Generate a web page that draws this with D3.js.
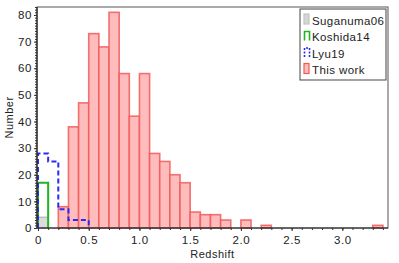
<!DOCTYPE html>
<html>
<head>
<meta charset="utf-8">
<style>
  body { margin: 0; background: #fff; }
  svg text { font-family: "Liberation Sans", Arial, sans-serif; fill: #222; }
</style>
</head>
<body>
<svg width="399" height="263"></svg>
<script src="https://cdnjs.cloudflare.com/ajax/libs/d3/7.8.5/d3.min.js"></script>
<script>

// histogram counts, bins of width 0.1 starting at z = 0
var binWidth = 0.1;
var thisWork   = [0, 0, 8, 38, 47, 73, 68, 81, 58, 42, 58, 28, 25, 20, 17, 6, 5, 5, 3, 0, 3, 0, 1,
                  0, 0, 0, 0, 0, 0, 0, 0, 0, 0, 1];
var lyu19      = [28, 25, 7, 3, 3];
var koshida14  = [17];
var suganuma06 = [4];

var xTicks = [0, 0.5, 1.0, 1.5, 2.0, 2.5, 3.0];
var yTicks = [0, 10, 20, 30, 40, 50, 60, 70, 80];
var legendNames = ["Suganuma06", "Koshida14", "Lyu19", "This work"];

var svg = d3.select("svg");
var plotL = 37, plotR = 388, plotT = 7, plotB = 228;

var x = d3.scaleLinear().domain([-0.01, 3.45]).range([plotL, plotR]);
var y = d3.scaleLinear().domain([0, 83]).range([plotB, plotT]);

function bins(arr) {
  return arr.map(function(v, i) { return { x0: i * binWidth, x1: (i + 1) * binWidth, n: v }; });
}

// step outline of a histogram
function stepPath(arr) {
  var p = d3.path();
  p.moveTo(x(0), y(0));
  arr.forEach(function(v, i) {
    p.lineTo(x(i * binWidth), y(v));
    p.lineTo(x((i + 1) * binWidth), y(v));
  });
  p.lineTo(x(arr.length * binWidth), y(0));
  return p.toString();
}

// gray
svg.append("g").selectAll("rect")
  .data(bins(suganuma06).filter(function(d) { return d.n > 0; }))
  .enter().append("rect")
  .attr("x", function(d) { return x(d.x0); })
  .attr("width", function(d) { return x(d.x1) - x(d.x0); })
  .attr("y", function(d) { return y(d.n); })
  .attr("height", function(d) { return y(0) - y(d.n); })
  .attr("fill", "#dcdcdc")
  .attr("stroke", "#bdbdbd")
  .attr("stroke-width", 1.5);

// this work
svg.append("g").selectAll("rect")
  .data(bins(thisWork).filter(function(d) { return d.n > 0; }))
  .enter().append("rect")
  .attr("x", function(d) { return x(d.x0); })
  .attr("width", function(d) { return x(d.x1) - x(d.x0); })
  .attr("y", function(d) { return y(d.n); })
  .attr("height", function(d) { return y(0) - y(d.n); })
  .attr("fill", "#ffbcbc")
  .attr("stroke", "#f25a5a")
  .attr("stroke-opacity", 0.85)
  .attr("stroke-width", 1.6);

svg.append("path")
  .attr("d", stepPath(koshida14))
  .attr("fill", "none")
  .attr("stroke", "#22b422")
  .attr("stroke-width", 2);

svg.append("path")
  .attr("d", stepPath(lyu19))
  .attr("fill", "none")
  .attr("stroke", "#2a2af5")
  .attr("stroke-width", 2)
  .attr("stroke-dasharray", "5,3");

// axes
var xAxis = d3.axisBottom(x).tickValues(xTicks)
  .tickFormat(function(d) { return d === 0 ? "0" : d3.format(".1f")(d); })
  .tickSize(3).tickPadding(5);
var xMinor = d3.axisBottom(x).tickValues(d3.range(0, 35).map(function(i) { return i / 10; }))
  .tickSize(2).tickFormat("");
var yAxis = d3.axisLeft(y).tickValues(yTicks).tickSize(3).tickPadding(2);
var yMinor = d3.axisLeft(y).tickValues(d3.range(0, 84)).tickSize(2).tickFormat("");

function styleAxis(g) {
  g.select(".domain").remove();
  g.selectAll("line").attr("stroke", "#333");
  g.selectAll("text").attr("font-size", 11.5).attr("font-family", "Liberation Sans, Arial, sans-serif")
    .attr("fill", "#222").style("letter-spacing", "0.6px");
}

svg.append("g").attr("transform", "translate(0," + plotB + ")").call(xMinor).call(styleAxis);
svg.append("g").attr("transform", "translate(0," + plotB + ")").call(xAxis).call(styleAxis);
svg.append("g").attr("transform", "translate(" + plotL + ",0)").call(yMinor).call(styleAxis);
svg.append("g").attr("transform", "translate(" + plotL + ",0)").call(yAxis).call(styleAxis);

// frame
svg.append("rect")
  .attr("x", plotL).attr("y", plotT)
  .attr("width", plotR - plotL).attr("height", plotB - plotT)
  .attr("fill", "none").attr("stroke", "#555").attr("stroke-width", 1);
svg.append("line").attr("x1", plotL).attr("x2", plotR).attr("y1", plotB).attr("y2", plotB)
  .attr("stroke", "#222").attr("stroke-width", 1.2);
svg.append("line").attr("x1", plotL).attr("x2", plotL).attr("y1", plotT).attr("y2", plotB)
  .attr("stroke", "#222").attr("stroke-width", 1.2);

svg.append("text")
  .attr("x", (plotL + plotR) / 2).attr("y", 258)
  .attr("text-anchor", "middle").attr("font-size", 11)
  .style("letter-spacing", "0.5px")
  .text("Redshift");

svg.append("text")
  .attr("transform", "translate(13," + ((plotT + plotB) / 2) + ") rotate(-90)")
  .attr("text-anchor", "middle").attr("font-size", 11)
  .style("letter-spacing", "0.5px")
  .text("Number");

// legend
var lg = svg.append("g").attr("transform", "translate(300,9)");
lg.append("rect").attr("width", 86).attr("height", 71)
  .attr("fill", "#fff").attr("stroke", "#444").attr("stroke-width", 1);

var legendStyles = [
  { fill: "#d6d6d6", stroke: "#c4c4c4", dash: null, closed: true },
  { fill: "none", stroke: "#22b422", dash: null, closed: false },
  { fill: "none", stroke: "#2a2af5", dash: "2,1.5", closed: false },
  { fill: "#ffbcbc", stroke: "#f25a5a", dash: null, closed: true }
];

legendNames.forEach(function(name, i) {
  var g = lg.append("g").attr("transform", "translate(3," + (5 + i * 16.5) + ")");
  var s = legendStyles[i];
  if (s.closed) {
    g.append("rect").attr("x", 1).attr("y", 0).attr("width", 5).attr("height", 10)
      .attr("fill", s.fill).attr("stroke", s.stroke).attr("stroke-width", 1.2);
  } else {
    g.append("path").attr("d", "M1.5,10V1H6.5V10")
      .attr("fill", "none").attr("stroke", s.stroke).attr("stroke-width", 1.6)
      .attr("stroke-dasharray", s.dash);
  }
  g.append("text").attr("x", 9).attr("y", 10.5)
    .attr("font-size", 11.5).style("letter-spacing", "0.4px")
    .text(name);
});

</script>
</body>
</html>
